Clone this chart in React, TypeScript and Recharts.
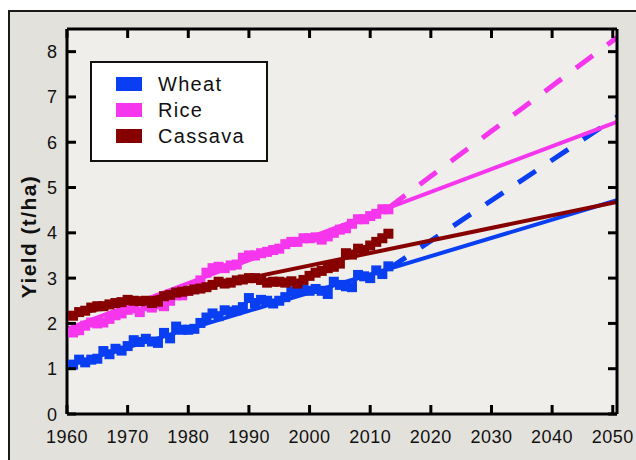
import { LineChart, Line, XAxis, YAxis, CartesianGrid, Legend } from 'recharts'

// observed world yields, t/ha
const years = [
  1961, 1962, 1963, 1964, 1965, 1966, 1967, 1968, 1969, 1970,
  1971, 1972, 1973, 1974, 1975, 1976, 1977, 1978, 1979, 1980,
  1981, 1982, 1983, 1984, 1985, 1986, 1987, 1988, 1989, 1990,
  1991, 1992, 1993, 1994, 1995, 1996, 1997, 1998, 1999, 2000,
  2001, 2002, 2003, 2004, 2005, 2006, 2007, 2008, 2009, 2010,
  2011, 2012, 2013,
]
const wheatYield = [
  1.09, 1.2, 1.14, 1.2, 1.22, 1.39, 1.32, 1.44, 1.4, 1.5,
  1.63, 1.59, 1.66, 1.6, 1.57, 1.79, 1.67, 1.93, 1.86, 1.86,
  1.88, 2.01, 2.13, 2.22, 2.16, 2.29, 2.26, 2.29, 2.36, 2.56,
  2.45, 2.52, 2.5, 2.44, 2.5, 2.58, 2.71, 2.72, 2.74, 2.72,
  2.76, 2.72, 2.65, 2.92, 2.85, 2.82, 2.8, 3.07, 3.04, 3.0,
  3.17, 3.09, 3.26,
]
const riceYield = [
  1.8, 1.85, 1.95, 2.02, 2.0, 2.02, 2.1, 2.18, 2.22, 2.3,
  2.33, 2.25, 2.38, 2.35, 2.42, 2.38, 2.5, 2.62, 2.62, 2.72,
  2.8, 2.95, 3.12, 3.22, 3.25, 3.22, 3.28, 3.3, 3.45, 3.5,
  3.5, 3.55, 3.58, 3.62, 3.65, 3.75, 3.8, 3.8, 3.88, 3.88,
  3.9, 3.85, 3.92, 4.0, 4.07, 4.1, 4.2, 4.3, 4.3, 4.37,
  4.42, 4.52, 4.52,
]
const cassavaYield = [
  2.17, 2.25, 2.28, 2.35, 2.38, 2.38, 2.42, 2.45, 2.47, 2.52,
  2.5, 2.49, 2.5, 2.45, 2.48, 2.6, 2.63, 2.68, 2.7, 2.72,
  2.75, 2.77, 2.8, 2.85, 2.92, 2.88, 2.9, 2.95, 2.97, 3.0,
  3.0, 2.96, 2.9, 2.92, 2.92, 2.9, 2.93, 2.88, 2.96, 3.05,
  3.12, 3.16, 3.22, 3.25, 3.32, 3.55, 3.52, 3.65, 3.62, 3.72,
  3.8, 3.88, 3.98,
]

// linear trends and required paths
const trendYears = [1960, 2050.7]
const wheatTrend = [1.07, 4.72]
const riceTrend = [1.88, 6.45]
const cassavaTrend = [2.17, 4.68]
const neededYears = [2013, 2050.7]
const wheatNeeded = [3.2, 6.56]
const riceNeeded = [4.55, 8.31]

const xTicks = [1960, 1970, 1980, 1990, 2000, 2010, 2020, 2030, 2040, 2050]
const yTicks = [0, 1, 2, 3, 4, 5, 6, 7, 8]

const crops = [
  { name: 'Wheat', color: '#0a3ef2', obs: wheatYield, trend: wheatTrend, needed: wheatNeeded },
  { name: 'Rice', color: '#f636ec', obs: riceYield, trend: riceTrend, needed: riceNeeded },
  { name: 'Cassava', color: '#870000', obs: cassavaYield, trend: cassavaTrend, needed: null as number[] | null },
]

const FONT = '"Liberation Sans", Arial, Helvetica, sans-serif'

const pts = (xs: number[], ys: number[]) => xs.map((x, i) => ({ year: x, v: ys[i] }))

// ticks point into the plot on all four sides
const BottomTick = (p: any) => (
  <g>
    <line x1={p.x} y1={p.y} x2={p.x} y2={p.y - 9} stroke="#000" strokeWidth={3} />
    <text x={p.x} y={p.y + 29} textAnchor="middle" fontSize={18} letterSpacing={0.5} fontFamily={FONT} fill="#111">
      {p.payload.value}
    </text>
  </g>
)
const TopTick = (p: any) => <line x1={p.x} y1={p.y} x2={p.x} y2={p.y + 9} stroke="#000" strokeWidth={3} />
const LeftTick = (p: any) => (
  <g>
    <line x1={p.x} y1={p.y} x2={p.x + 9} y2={p.y} stroke="#000" strokeWidth={3} />
    <text x={p.x - 10} y={p.y + 6.5} textAnchor="end" fontSize={18} fontFamily={FONT} fill="#111">
      {p.payload.value}
    </text>
  </g>
)
const RightTick = (p: any) => <line x1={p.x} y1={p.y} x2={p.x - 9} y2={p.y} stroke="#000" strokeWidth={3} />

const YLabel = (p: any) => {
  const vb = p.viewBox || { x: 66, y: 29, width: 1, height: 385 }
  const cx = vb.x + vb.width - 39
  const cy = vb.y + vb.height / 2 + 15
  return (
    <text x={cx} y={cy} transform={`rotate(-90 ${cx} ${cy})`} textAnchor="middle" dominantBaseline="central"
      fontSize={21} fontWeight="bold" letterSpacing={1.4} fontFamily={FONT} fill="#111">
      Yield (t/ha)
    </text>
  )
}

const LegendBox = () => (
  <div style={{ position: 'relative', width: 178, height: 101, boxSizing: 'border-box', border: '2px solid #111', background: '#fff', fontFamily: FONT }}>
    {crops.map((c, i) => (
      <div key={c.name}>
        <div style={{ position: 'absolute', left: 24, top: 14 + i * 26, width: 26, height: 14, background: c.color }} />
        <div style={{ position: 'absolute', left: 66, top: 8 + i * 26, fontSize: 20, lineHeight: '26px', letterSpacing: 1.3, color: '#111' }}>
          {c.name}
        </div>
      </div>
    ))}
  </div>
)

const squareDot = (color: string) => (p: any) => (
  <rect key={`sq-${color}-${p.index}`} x={p.cx - 5} y={p.cy - 5} width={10} height={10} fill={color} />
)

export default function App() {
  return (
    <div style={{ position: 'fixed', left: 0, top: 0, width: 636, height: 460, background: '#fff', overflow: 'hidden' }}>
      <div style={{ position: 'absolute', left: 8, top: 10, width: 660, height: 480, border: '2px solid #1a1a1a', background: '#e3e1dc' }} />
      <div style={{ position: 'absolute', left: 0, top: 0 }}>
        <LineChart width={636} height={460} margin={{ top: 28, right: 18, bottom: 45, left: 66 }}>
          <CartesianGrid xAxisId="b" yAxisId="l" horizontal={false} vertical={false} fill="#efeeea" stroke="none" />
          <XAxis xAxisId="b" dataKey="year" type="number" domain={[1960, 2050.7]} ticks={xTicks} interval={0}
            allowDataOverflow height={1} tickSize={0} tickMargin={0} tickLine={false}
            axisLine={{ stroke: '#000', strokeWidth: 3 }} tick={<BottomTick />} />
          <XAxis xAxisId="t" orientation="top" dataKey="year" type="number" domain={[1960, 2050.7]} ticks={xTicks} interval={0}
            allowDataOverflow height={1} tickSize={0} tickMargin={0} tickLine={false}
            axisLine={{ stroke: '#000', strokeWidth: 3 }} tick={<TopTick />} />
          <YAxis yAxisId="l" type="number" domain={[0, 8.5]} ticks={yTicks} interval={0} allowDataOverflow
            width={1} tickSize={0} tickMargin={0} tickLine={false}
            axisLine={{ stroke: '#000', strokeWidth: 3 }} tick={<LeftTick />} label={<YLabel />} />
          <YAxis yAxisId="r" orientation="right" type="number" domain={[0, 8.5]} ticks={yTicks} interval={0} allowDataOverflow
            width={1} tickSize={0} tickMargin={0} tickLine={false}
            axisLine={{ stroke: '#000', strokeWidth: 3 }} tick={<RightTick />} />
          <Legend layout="vertical" align="center" verticalAlign="middle" content={<LegendBox />}
            wrapperStyle={{ left: 90, top: 61, width: 178, height: 101 }} />
          {crops.map((c) => [
            <Line key={`${c.name}-obs`} xAxisId="b" yAxisId="l" data={pts(years, c.obs)} dataKey="v" name={c.name}
              stroke={c.color} strokeWidth={4} dot={squareDot(c.color)} activeDot={false} isAnimationActive={false} />,
            <Line key={`${c.name}-trend`} xAxisId="b" yAxisId="l" data={pts(trendYears, c.trend)} dataKey="v" legendType="none"
              stroke={c.color} strokeWidth={4} dot={false} activeDot={false} isAnimationActive={false} />,
            c.needed ? (
              <Line key={`${c.name}-need`} xAxisId="b" yAxisId="l" data={pts(neededYears, c.needed)} dataKey="v" legendType="none"
                stroke={c.color} strokeWidth={5} strokeDasharray="21 18" dot={false} activeDot={false} isAnimationActive={false} />
            ) : null,
          ])}
        </LineChart>
      </div>
    </div>
  )
}
